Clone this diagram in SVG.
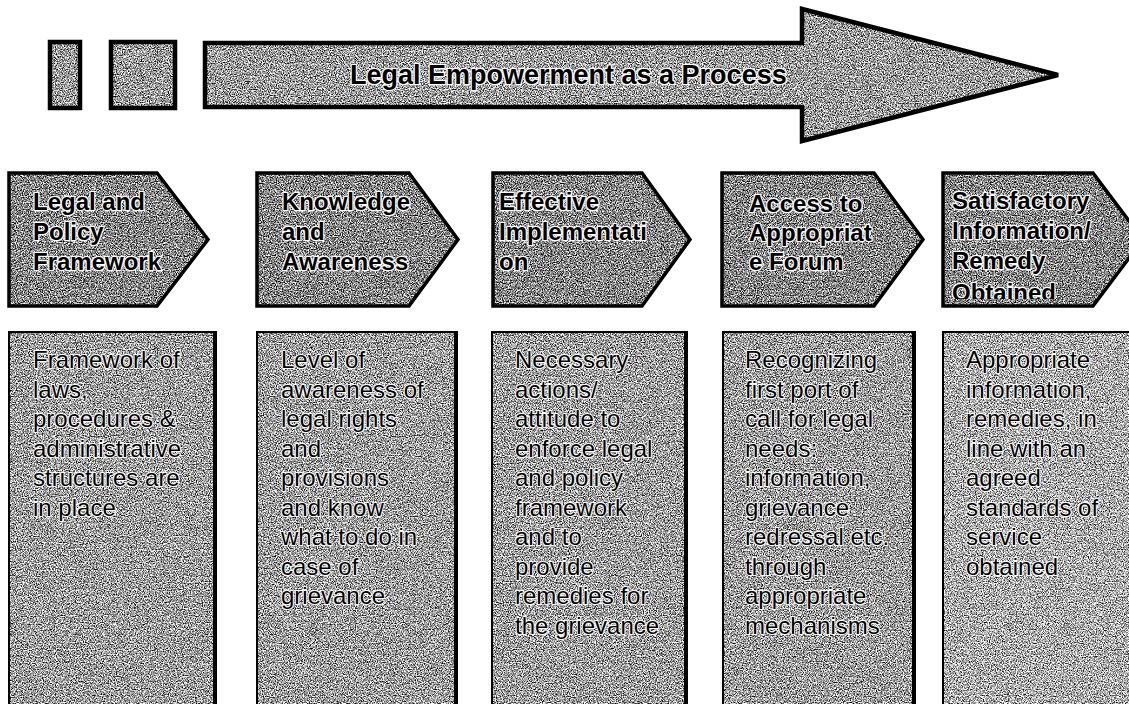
<svg xmlns="http://www.w3.org/2000/svg" width="1129" height="704" viewBox="0 0 1129 704">
<defs>
<filter id="grain" x="0" y="0" width="1" height="1" color-interpolation-filters="sRGB">
<feTurbulence type="fractalNoise" baseFrequency="0.85" numOctaves="2" seed="7"/>
<feColorMatrix type="matrix" values="1 0 0 0 0 1 0 0 0 0 1 0 0 0 0 0 0 0 0 1" result="n"/>
<feComposite in="SourceGraphic" in2="n" operator="arithmetic" k1="0" k2="1" k3="2.4" k4="-1.2" result="m"/>
<feComposite in="m" in2="SourceAlpha" operator="in"/>
</filter>
<clipPath id="clip5"><rect x="943" y="173" width="200" height="126"/></clipPath>
</defs>
<style>
.fillA{fill:#9c9c9c;filter:url(#grain)}
.fillC{fill:#858585;filter:url(#grain)}
.fillR{fill:#9e9e9e;filter:url(#grain)}
.fillR5{fill:#adadad;filter:url(#grain)}
.edge{fill:none;stroke:#000;stroke-linejoin:miter}
.t{font-family:"Liberation Sans",Arial,sans-serif;fill:#000;stroke:#fff;paint-order:stroke;stroke-linejoin:round}
.title{font-size:27px;font-weight:bold;stroke-width:2.5}
.head{font-size:24px;font-weight:bold;stroke-width:2.5}
.body{font-size:24px;stroke-width:2}
</style>
<rect width="1129" height="704" fill="#fff"/>

<g id="box-small-1">
<rect class="fillA" x="50" y="42" width="30" height="66"/>
<rect class="edge" x="50" y="42" width="30" height="66" stroke-width="4.5"/>
</g>
<g id="box-small-2">
<rect class="fillA" x="111" y="42" width="64" height="66"/>
<rect class="edge" x="111" y="42" width="64" height="66" stroke-width="4.5"/>
</g>
<g id="process-arrow">
<path class="fillA" d="M205,43 L802,43 L802,9 L1058,75 L802,141 L802,107 L205,107 Z"/>
<path class="edge" d="M205,43 L802,43 L802,9 L1058,75 L802,141 L802,107 L205,107 Z" stroke-width="4.5"/>
<text class="t title" x="350" y="84">Legal Empowerment as a Process</text>
</g>

<g id="stage-1">
<path class="fillC" d="M9,173 L157,173 L208,239.5 L157,306 L9,306 Z"/>
<path class="edge" d="M9,173 L157,173 L208,239.5 L157,306 L9,306 Z" stroke-width="3.5"/>
<text class="t head"><tspan x="33" y="210">Legal and</tspan><tspan x="33" y="240">Policy</tspan><tspan x="33" y="270">Framework</tspan></text>
</g>
<g id="stage-2">
<path class="fillC" d="M257,173 L409,173 L458,239.5 L409,306 L257,306 Z"/>
<path class="edge" d="M257,173 L409,173 L458,239.5 L409,306 L257,306 Z" stroke-width="3.5"/>
<text class="t head"><tspan x="282" y="210">Knowledge</tspan><tspan x="282" y="240">and</tspan><tspan x="282" y="270">Awareness</tspan></text>
</g>
<g id="stage-3">
<path class="fillC" d="M493,173 L642,173 L690,239.5 L642,306 L493,306 Z"/>
<path class="edge" d="M493,173 L642,173 L690,239.5 L642,306 L493,306 Z" stroke-width="3.5"/>
<text class="t head"><tspan x="499" y="210">Effective</tspan><tspan x="499" y="240">Implementati</tspan><tspan x="499" y="270">on</tspan></text>
</g>
<g id="stage-4">
<path class="fillC" d="M722,173 L874,173 L923,239.5 L874,306 L722,306 Z"/>
<path class="edge" d="M722,173 L874,173 L923,239.5 L874,306 L722,306 Z" stroke-width="3.5"/>
<text class="t head"><tspan x="749" y="212">Access to</tspan><tspan x="749" y="241">Appropriat</tspan><tspan x="749" y="270">e Forum</tspan></text>
</g>
<g id="stage-5">
<path class="fillC" d="M943,173 L1093,173 L1143,239.5 L1093,306 L943,306 Z"/>
<path class="edge" d="M943,173 L1093,173 L1143,239.5 L1093,306 L943,306 Z" stroke-width="3.5"/>
<text class="t head" clip-path="url(#clip5)"><tspan x="952" y="209">Satisfactory</tspan><tspan x="952" y="239">Information/</tspan><tspan x="952" y="269">Remedy</tspan><tspan x="952" y="301">Obtained</tspan></text>
</g>

<g id="detail-1">
<rect class="fillR" x="9" y="332" width="207" height="380"/>
<rect class="edge" x="9" y="332" width="207" height="380" stroke-width="2"/>
<line x1="215" y1="332" x2="215" y2="712" stroke="#000" stroke-width="4"/>
<text class="t body"><tspan x="33" y="368">Framework of</tspan><tspan x="33" y="397.5">laws,</tspan><tspan x="33" y="427">procedures &amp;</tspan><tspan x="33" y="456.5">administrative</tspan><tspan x="33" y="486">structures are</tspan><tspan x="33" y="515.5">in place</tspan></text>
</g>
<g id="detail-2">
<rect class="fillR" x="257" y="332" width="200" height="380"/>
<rect class="edge" x="257" y="332" width="200" height="380" stroke-width="2"/>
<line x1="456" y1="332" x2="456" y2="712" stroke="#000" stroke-width="4"/>
<text class="t body"><tspan x="281" y="368">Level of</tspan><tspan x="281" y="397.5">awareness of</tspan><tspan x="281" y="427">legal rights</tspan><tspan x="281" y="456.5">and</tspan><tspan x="281" y="486">provisions</tspan><tspan x="281" y="515.5">and know</tspan><tspan x="281" y="545">what to do in</tspan><tspan x="281" y="574.5">case of</tspan><tspan x="281" y="604">grievance</tspan></text>
</g>
<g id="detail-3">
<rect class="fillR" x="492" y="332" width="195" height="380"/>
<rect class="edge" x="492" y="332" width="195" height="380" stroke-width="2"/>
<line x1="686" y1="332" x2="686" y2="712" stroke="#000" stroke-width="4"/>
<text class="t body"><tspan x="515" y="368">Necessary</tspan><tspan x="515" y="397.5">actions/</tspan><tspan x="515" y="427">attitude to</tspan><tspan x="515" y="456.5">enforce legal</tspan><tspan x="515" y="486">and policy</tspan><tspan x="515" y="515.5">framework</tspan><tspan x="515" y="545">and to</tspan><tspan x="515" y="574.5">provide</tspan><tspan x="515" y="604">remedies for</tspan><tspan x="515" y="633.5">the grievance</tspan></text>
</g>
<g id="detail-4">
<rect class="fillR" x="723" y="332" width="192" height="380"/>
<rect class="edge" x="723" y="332" width="192" height="380" stroke-width="2"/>
<line x1="914" y1="332" x2="914" y2="712" stroke="#000" stroke-width="4"/>
<text class="t body"><tspan x="745" y="368">Recognizing</tspan><tspan x="745" y="397.5">first port of</tspan><tspan x="745" y="427">call for legal</tspan><tspan x="745" y="456.5">needs:</tspan><tspan x="745" y="486">information,</tspan><tspan x="745" y="515.5">grievance</tspan><tspan x="745" y="545">redressal etc.</tspan><tspan x="745" y="574.5">through</tspan><tspan x="745" y="604">appropriate</tspan><tspan x="745" y="633.5">mechanisms</tspan></text>
</g>
<g id="detail-5">
<rect class="fillR5" x="943" y="332" width="195" height="380"/>
<rect class="edge" x="943" y="332" width="195" height="380" stroke-width="2"/>
<text class="t body"><tspan x="966" y="368">Appropriate</tspan><tspan x="966" y="397.5">information,</tspan><tspan x="966" y="427">remedies, in</tspan><tspan x="966" y="456.5">line with an</tspan><tspan x="966" y="486">agreed</tspan><tspan x="966" y="515.5">standards of</tspan><tspan x="966" y="545">service</tspan><tspan x="966" y="574.5">obtained</tspan></text>
</g>

<g id="connectors"></g>
</svg>
